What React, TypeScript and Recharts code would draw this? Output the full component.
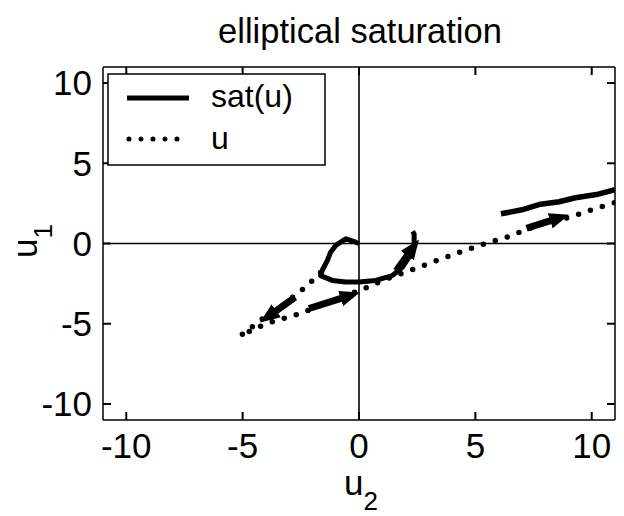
import React from 'react';
import { LineChart, Line, XAxis, YAxis, ReferenceLine, Legend } from 'recharts';

// ---- data ----
const satLoopX = [0, -0.14, -0.57, -1.0, -1.22, -1.36, -1.58, -1.65, -1.15, -0.57, 0, 0.72, 1.43, 1.86, 2.15, 2.37, 2.37, 2.3];
const satLoopY = [0, 0.08, 0.29, -0.12, -0.54, -1.06, -1.68, -2.0, -2.3, -2.4, -2.4, -2.3, -2.0, -1.48, -0.85, -0.12, 0.6, 0.75];
const satRightX = [6.1, 7.0, 7.8, 8.6, 9.3, 10.2, 11];
const satRightY = [1.85, 2.1, 2.45, 2.6, 2.85, 3.05, 3.35];
const uX = [-1.65, -2.0, -2.45, -2.9, -3.4, -3.9, -4.5, -5.1, -4.0, -2.6, -1.2, 0.15, 1.2, 2.15, 3.0, 4.3, 5.3, 6.45, 7.8, 9.1, 10.2, 11];
const uY = [-1.8, -2.3, -2.9, -3.4, -4.0, -4.4, -5.1, -5.75, -5.0, -4.4, -3.6, -2.85, -2.2, -1.7, -1.25, -0.56, -0.06, 0.44, 1.2, 1.65, 2.2, 2.55];
// arrows: start -> tip
const arrowStartX = [1.6, -2.75, -2.15, 7.2];
const arrowStartY = [-1.7, -3.35, -4.05, 0.95];
const arrowTipX = [2.25, -3.8, -0.5, 8.5];
const arrowTipY = [-0.4, -4.45, -3.3, 1.55];
const ticks = [-10, -5, 0, 5, 10];
const seriesNames = ['sat(u)', 'u'];
const title = 'elliptical saturation';

const toPts = (xs: number[], ys: number[]) => xs.map((x, i) => ({ x, y: ys[i] }));
const satLoop = toPts(satLoopX, satLoopY);
const satRight = toPts(satRightX, satRightY);
const uPath = toPts(uX, uY);
const arrows = arrowStartX.map((x, i) => [
  { x, y: arrowStartY[i] },
  { x: arrowTipX[i], y: arrowTipY[i] },
]);

const FONT = '"Liberation Sans", Arial, Helvetica, sans-serif';
const FS = 35;
const axisLineStyle = { stroke: '#000', strokeWidth: 1.5 };
const tickLineStyle = { stroke: '#000', strokeWidth: 2 };
const labelStyle = { fill: '#000', fontSize: FS, fontFamily: FONT };

function LegendBox(props: any) {
  const items = (props.payload || []).filter((p: any) => p.type !== 'none');
  return (
    <svg width={220} height={94} style={{ display: 'block' }}>
      <rect x={1} y={1} width={217} height={91} fill="#fff" stroke="#000" strokeWidth={1.5} />
      {items.map((it: any, i: number) => {
        const y = 25 + i * 41;
        const dotted = i === 1;
        return (
          <g key={i}>
            <line
              x1={dotted ? 22 : 20}
              y1={y}
              x2={82}
              y2={y}
              stroke="#000"
              strokeWidth={5}
              strokeDasharray={dotted ? '0 12' : undefined}
              strokeLinecap={dotted ? 'round' : 'butt'}
            />
            <text x={104} y={y + 9 + (dotted ? 1 : 0)} fontSize={32} fontFamily={FONT} fill="#000">
              {it.value}
            </text>
          </g>
        );
      })}
    </svg>
  );
}

const noLabel = () => <g />;

export default function App() {
  return (
    <div style={{ position: 'absolute', left: 0, top: 0, background: '#fff' }}>
      <LineChart
        width={624}
        height={516}
        margin={{ top: 66, right: 8, bottom: 66, left: 43 }}
        style={{ fontFamily: FONT }}
      >
        <defs>
          <marker id="ah" markerWidth={20} markerHeight={16} refX={7} refY={8} orient="auto" markerUnits="userSpaceOnUse">
            <path d="M0,0 L20,8 L0,16 z" fill="#000" />
          </marker>
        </defs>
        <text x={360} y={43} textAnchor="middle" fontSize={34.5} fontFamily={FONT} fill="#000">
          {title}
        </text>
        <text x={344} y={495} fontSize={FS} fontFamily={FONT} fill="#000">
          <tspan>u</tspan>
          <tspan dy={15} fontSize={26}>2</tspan>
        </text>
        <text x={37} y={258} transform="rotate(-90 37 258)" fontSize={FS} fontFamily={FONT} fill="#000">
          <tspan>u</tspan>
          <tspan dy={15} fontSize={26}>1</tspan>
        </text>
        <XAxis
          type="number"
          dataKey="x"
          domain={[-11, 11]}
          allowDataOverflow
          ticks={ticks}
          height={30}
          tickSize={-8}
          tickMargin={21}
          tickLine={tickLineStyle}
          tick={labelStyle}
          axisLine={axisLineStyle}
        />
        <XAxis
          xAxisId="top"
          orientation="top"
          type="number"
          dataKey="x"
          domain={[-11, 11]}
          allowDataOverflow
          ticks={ticks}
          height={1}
          tickSize={-8}
          tickLine={tickLineStyle}
          tick={noLabel}
          axisLine={axisLineStyle}
        />
        <YAxis
          type="number"
          dataKey="y"
          domain={[-11, 11]}
          allowDataOverflow
          ticks={ticks}
          width={60}
          tickSize={-8}
          tickMargin={19}
          tickLine={tickLineStyle}
          tick={labelStyle}
          axisLine={axisLineStyle}
        />
        <YAxis
          yAxisId="right"
          orientation="right"
          type="number"
          domain={[-11, 11]}
          allowDataOverflow
          ticks={ticks}
          width={1}
          tickSize={-8}
          tickLine={tickLineStyle}
          tick={noLabel}
          axisLine={axisLineStyle}
        />
        <ReferenceLine x={0} stroke="#000" strokeWidth={1.6} />
        <ReferenceLine y={0} stroke="#000" strokeWidth={1.6} />
        <Line
          name={seriesNames[0]}
          data={satLoop}
          dataKey="y"
          stroke="#000"
          strokeWidth={5}
          strokeLinejoin="round"
          dot={false}
          activeDot={false}
          isAnimationActive={false}
        />
        <Line
          name={seriesNames[1]}
          data={uPath}
          dataKey="y"
          stroke="#000"
          strokeWidth={5.5}
          strokeDasharray="0 12.5"
          strokeLinecap="round"
          dot={false}
          activeDot={false}
          isAnimationActive={false}
        />
        <Line
          name="sat-right"
          legendType="none"
          data={satRight}
          dataKey="y"
          stroke="#000"
          strokeWidth={5.5}
          strokeLinejoin="round"
          dot={false}
          activeDot={false}
          isAnimationActive={false}
        />
        {arrows.map((a, i) => (
          <Line
            key={i}
            name={'arrow' + i}
            legendType="none"
            data={a}
            dataKey="y"
            stroke="#000"
            strokeWidth={7}
            markerEnd="url(#ah)"
            dot={false}
            activeDot={false}
            isAnimationActive={false}
          />
        ))}
        <Legend
          layout="horizontal"
          verticalAlign="middle"
          align="center"
          content={<LegendBox />}
          wrapperStyle={{ left: 107, top: 73, width: 220, height: 94 }}
        />
      </LineChart>
    </div>
  );
}
